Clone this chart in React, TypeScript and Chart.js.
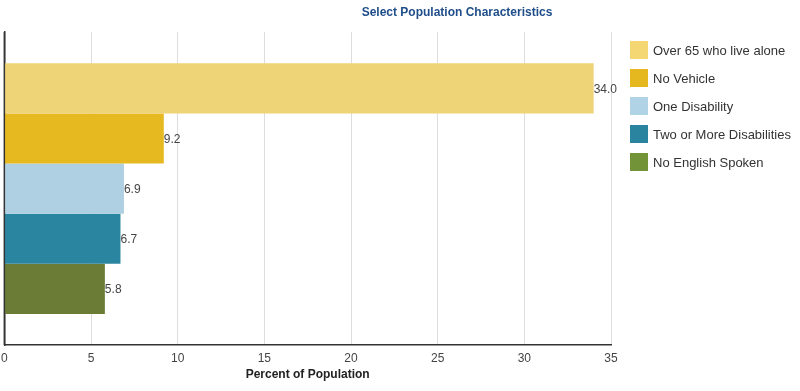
import React, { useEffect, useRef } from "react";
import { Chart, registerables } from "chart.js";

Chart.register(...registerables);

const categories = ["Population"];
const seriesNames = [
  "Over 65 who live alone",
  "No Vehicle",
  "One Disability",
  "Two or More Disabilities",
  "No English Spoken",
];
const seriesValues = [34.0, 9.2, 6.9, 6.7, 5.8];
const barColors = ["#eed377", "#e6b921", "#aed0e2", "#2a86a0", "#6b7c36"];
const legendColors = ["#f4d673", "#e6b820", "#b0d3e6", "#2a84a0", "#739339"];
const xTicks = [0, 5, 10, 15, 20, 25, 30, 35];

const FONT = "Arial, 'Liberation Sans', sans-serif";

const valueLabels = {
  id: "valueLabels",
  afterDatasetsDraw(chart: any) {
    const ctx = chart.ctx;
    const area = chart.chartArea;
    ctx.save();
    ctx.strokeStyle = "#333";
    ctx.lineWidth = 1.5;
    ctx.beginPath();
    ctx.moveTo(area.left, area.top);
    ctx.lineTo(area.left, area.bottom);
    ctx.stroke();
    ctx.font = `12px ${FONT}`;
    ctx.fillStyle = "#444";
    ctx.textBaseline = "middle";
    ctx.textAlign = "left";
    chart.data.datasets.forEach((ds: any, i: number) => {
      const meta = chart.getDatasetMeta(i);
      meta.data.forEach((el: any, j: number) => {
        const v = ds.data[j] as number;
        ctx.fillText(v.toFixed(1), el.x, el.y + 1);
      });
    });
    ctx.restore();
  },
};

export default function App() {
  const ref = useRef<HTMLCanvasElement>(null);
  useEffect(() => {
    if (!ref.current) return;
    const chart = new Chart(ref.current, {
      type: "bar",
      data: {
        labels: categories,
        datasets: seriesNames.map((name, i) => ({
          label: name,
          data: [seriesValues[i]],
          backgroundColor: barColors[i],
          borderWidth: 0,
          barPercentage: 1,
          categoryPercentage: 0.8,
        })),
      },
      options: {
        indexAxis: "y",
        animation: false,
        responsive: false,
        maintainAspectRatio: false,
        layout: { padding: { left: 4, right: 189, top: 32, bottom: 9 } },
        plugins: {
          legend: { display: false },
          title: { display: false },
          tooltip: { enabled: false },
        },
        scales: {
          x: {
            min: 0,
            max: 35,
            afterBuildTicks: (axis: any) => {
              axis.ticks = xTicks.map((v) => ({ value: v }));
            },
            grid: { color: "#dddddd", drawTicks: false, lineWidth: 1 },
            border: { display: true, color: "#333", width: 1.5 },
            ticks: {
              color: "#444",
              font: { family: FONT, size: 12 },
              padding: 6,
            },
            title: {
              display: true,
              text: "Percent of Population",
              color: "#222",
              font: { family: FONT, size: 12, weight: "bold" },
              padding: { top: -4, bottom: 0 },
            },
          },
          y: {
            grid: { display: false, drawTicks: false },
            border: { display: true, color: "#333", width: 1.5 },
            ticks: { display: false },
            afterFit: (axis: any) => {
              axis.width = 0;
            },
          },
        },
      },
      plugins: [valueLabels],
    });
    return () => chart.destroy();
  }, []);

  return (
    <div style={{ position: "fixed", left: 0, top: 0, width: 800, height: 391, background: "#fff", overflow: "hidden" }}>
      <canvas ref={ref} width={805} height={391} style={{ position: "absolute", left: -5, top: 0 }} />
      <div
        style={{
          position: "absolute",
          left: 457,
          top: 5,
          transform: "translateX(-50%)",
          whiteSpace: "nowrap",
          font: `bold 12px ${FONT}`,
          color: "#1f4e8a",
        }}
      >
        Select Population Characteristics
      </div>
      {seriesNames.map((name, i) => (
        <div
          key={name}
          style={{ position: "absolute", left: 630, top: 41 + i * 28, height: 18, display: "flex", alignItems: "center" }}
        >
          <div style={{ width: 18, height: 18, background: legendColors[i] }} />
          <span style={{ marginLeft: 5, font: `13px ${FONT}`, color: "#333", whiteSpace: "nowrap" }}>{name}</span>
        </div>
      ))}
    </div>
  );
}
